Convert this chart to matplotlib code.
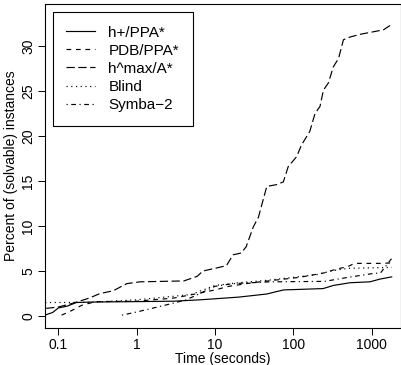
import matplotlib
matplotlib.use("Agg")
import matplotlib.pyplot as plt

plt.rcParams['font.family'] = ['Liberation Sans', 'DejaVu Sans']

# ---- data ----
hplus_t = [0.07, 0.085, 0.1, 0.13, 0.17, 0.25, 1, 3, 6.4, 20, 46, 60, 75, 240, 325, 530, 950, 1270, 1800]
hplus_y = [0.15, 0.4, 0.9, 1.1, 1.5, 1.55, 1.6, 1.65, 1.8, 2.1, 2.45, 2.7, 2.9, 3.05, 3.4, 3.7, 3.8, 4.1, 4.35]

pdb_t = [0.11, 0.14, 0.2, 0.3, 1, 3, 6, 10, 15, 30, 60, 120, 250, 350, 500, 600, 1300, 1800]
pdb_y = [0.1, 0.5, 1.2, 1.6, 1.65, 2.0, 2.5, 2.9, 3.3, 3.7, 4.0, 4.3, 4.8, 5.2, 5.5, 5.85, 5.85, 5.9]

hmax_t = [0.07, 0.1, 0.15, 0.25, 0.34, 0.5, 0.75, 1.1, 4, 5.9, 7, 10, 14, 17, 21.6, 25, 30.8, 35.9, 45.8,
          61, 74.5, 86, 110, 127, 162, 189, 219, 242, 280, 324, 377, 436, 530, 712, 1414, 1800]
hmax_y = [0.85, 1.0, 1.4, 2.0, 2.5, 2.8, 3.6, 3.8, 3.9, 4.4, 5.0, 5.3, 5.6, 6.8, 7.0, 7.7, 9.9, 11.0, 14.4,
          14.6, 14.9, 16.6, 17.7, 19.0, 20.5, 22.5, 23.3, 25.1, 25.9, 27.7, 28.6, 30.7, 31.0, 31.3, 31.8, 32.4]

blind_t = [0.068, 0.25, 1, 3, 5, 10, 20, 50, 100, 200, 300, 500, 1800]
blind_y = [1.5, 1.52, 1.8, 2.2, 2.4, 3.4, 3.7, 4.0, 4.3, 4.6, 5.0, 5.3, 5.4]

symba_t = [0.65, 1, 2.3, 4.3, 6.4, 10, 17, 50, 250, 500, 1000, 1300, 1800]
symba_y = [0.1, 0.45, 1.2, 1.8, 2.5, 3.3, 3.6, 3.8, 3.85, 4.3, 4.7, 4.8, 6.4]

labels = ["h+/PPA*", "PDB/PPA*", "h^max/A*", "Blind", "Symba\u22122"]
xticks = [0.1, 1, 10, 100, 1000]
xticklabels = ["0.1", "1", "10", "100", "1000"]
yticks = [0, 5, 10, 15, 20, 25, 30]

fig = plt.figure(figsize=(4.02, 3.65), dpi=100)
ax = fig.add_axes([45/402, 37/365, 356/402, 324/365])

lw = 0.85
ax.plot(hplus_t, hplus_y, color='black', lw=lw, linestyle='-', label=labels[0])
ax.plot(pdb_t, pdb_y, color='black', lw=lw, linestyle=(0, (4, 4)), label=labels[1])
ax.plot(hmax_t, hmax_y, color='black', lw=lw, linestyle=(0, (7, 3)), label=labels[2])
ax.plot(blind_t, blind_y, color='black', lw=lw, linestyle=(0, (1, 3)), label=labels[3])
ax.plot(symba_t, symba_y, color='black', lw=lw, linestyle=(0, (1, 3, 4, 3)), label=labels[4])

ax.set_xscale('log')
ax.set_xlim(0.0676, 2367)
ax.set_ylim(-1.33, 34.67)
ax.set_xticks(xticks)
ax.set_xticklabels(xticklabels)
ax.minorticks_off()
ax.set_yticks(yticks)
ax.set_yticklabels([str(v) for v in yticks], rotation=90, va='center')
ax.tick_params(direction='out', length=5, width=0.7, labelsize=10, pad=2, color='black')
for s in ax.spines.values():
    s.set_linewidth(0.8)
    s.set_color('black')

ax.set_xlabel("Time (seconds)", fontsize=10, labelpad=0)
ax.set_ylabel("Percent of (solvable) instances", fontsize=10, labelpad=2)

leg = ax.legend(loc='upper left', bbox_to_anchor=(0.0216, 0.976), borderaxespad=0,
                fontsize=11, handlelength=1.85, handletextpad=0.9, labelspacing=0.27,
                borderpad=0.9, fancybox=False, framealpha=1, edgecolor='black')
leg.get_frame().set_linewidth(0.8)

fig.savefig("out.png", dpi=100)
